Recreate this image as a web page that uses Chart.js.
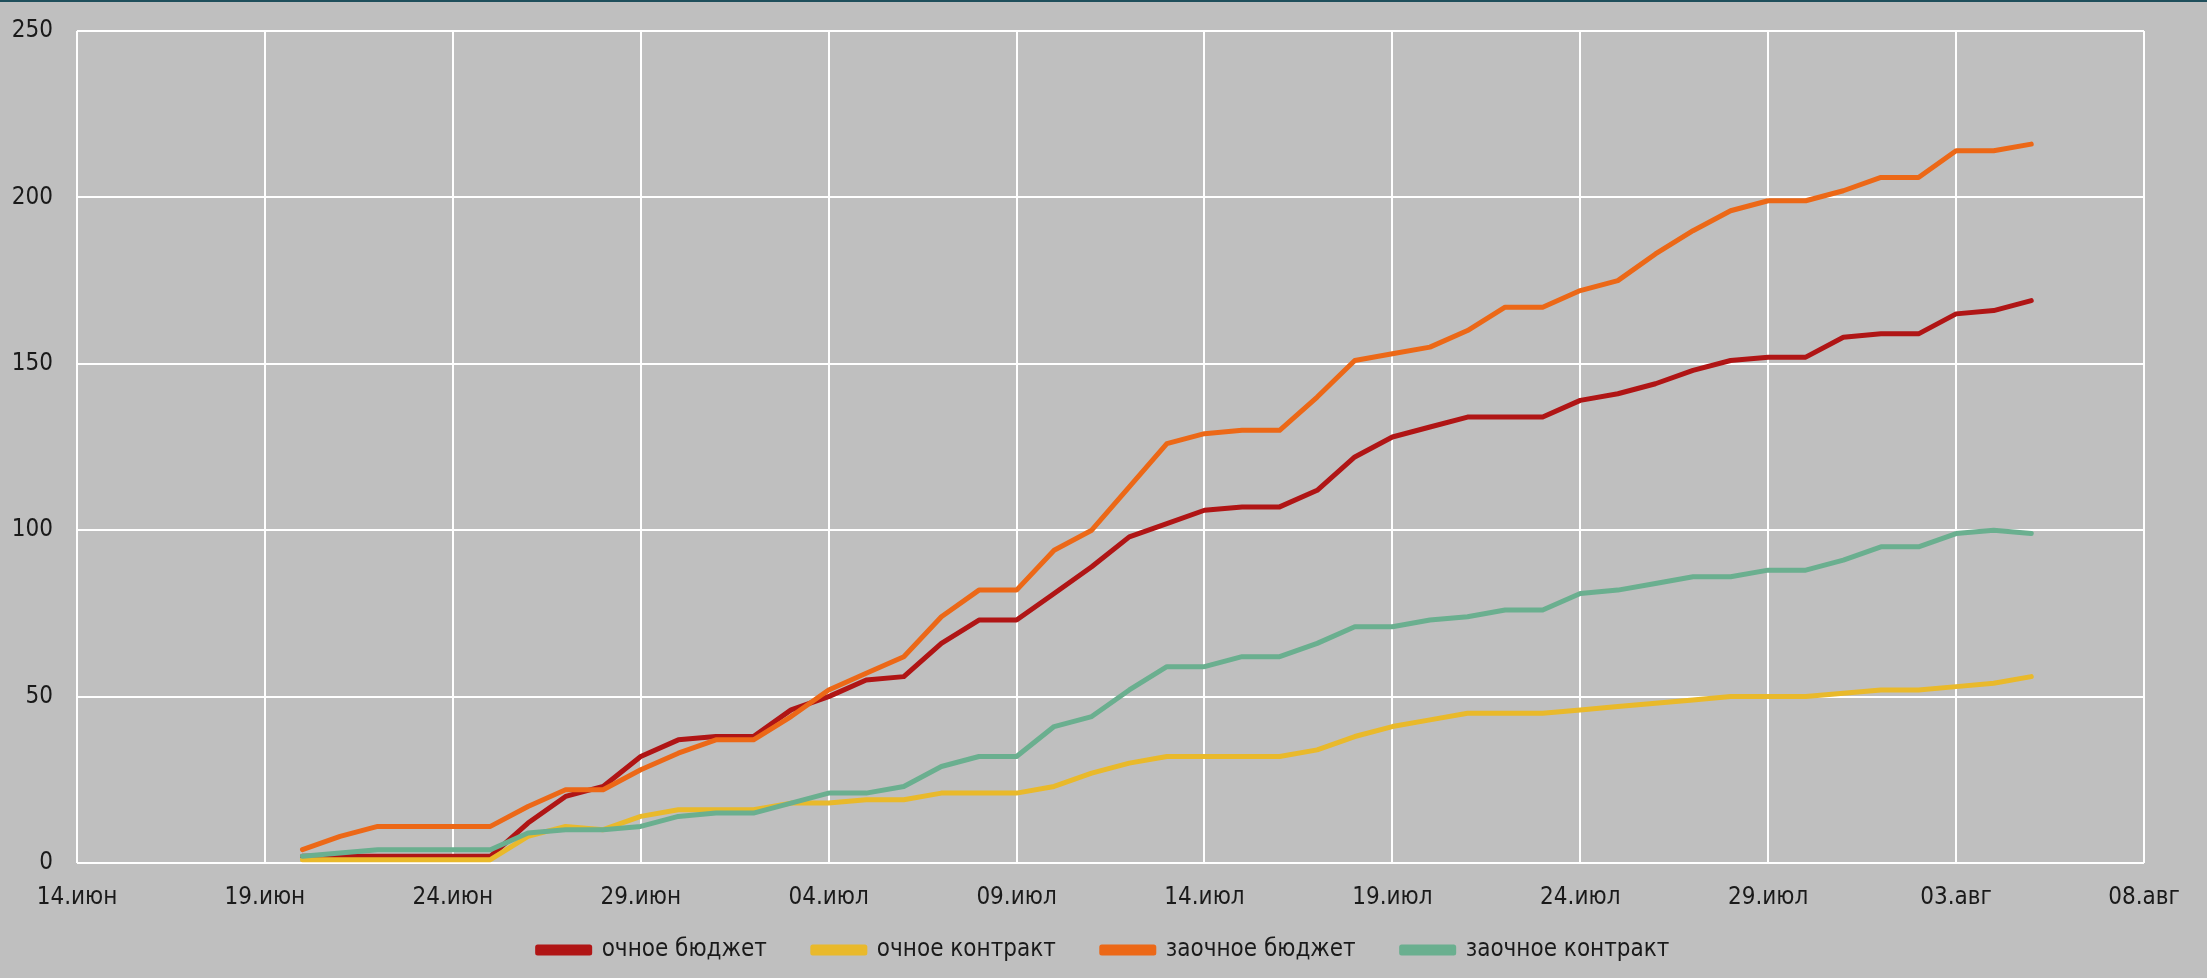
<!DOCTYPE html>
<html lang="ru">
<head>
<meta charset="utf-8">
<title>Заявления по дням</title>
<script src="https://cdn.jsdelivr.net/npm/chart.js@4"></script>
<style>
  html, body { margin: 0; padding: 0; background: #bfbfbf; overflow: hidden; }
  #wrap { width: 2207px; height: 978px; }
</style>
</head>
<body>
<div id="wrap"><canvas id="appChart" width="2207" height="978"></canvas></div>
<script>
// dates of the daily counts (20.06 .. 05.08)
const dates = [
    '2023-06-20', '2023-06-21', '2023-06-22', '2023-06-23', '2023-06-24', '2023-06-25',
    '2023-06-26', '2023-06-27', '2023-06-28', '2023-06-29', '2023-06-30',
    '2023-07-01', '2023-07-02', '2023-07-03', '2023-07-04', '2023-07-05', '2023-07-06',
    '2023-07-07', '2023-07-08', '2023-07-09', '2023-07-10', '2023-07-11', '2023-07-12',
    '2023-07-13', '2023-07-14', '2023-07-15', '2023-07-16', '2023-07-17', '2023-07-18',
    '2023-07-19', '2023-07-20', '2023-07-21', '2023-07-22', '2023-07-23', '2023-07-24',
    '2023-07-25', '2023-07-26', '2023-07-27', '2023-07-28', '2023-07-29', '2023-07-30',
    '2023-07-31', '2023-08-01', '2023-08-02', '2023-08-03', '2023-08-04', '2023-08-05'
];

const seriesNames = ['очное бюджет', 'очное контракт', 'заочное бюджет', 'заочное контракт'];

const fullTimeBudget = [
    2, 2, 2, 2, 2, 2, 12, 20, 23, 32, 37,
    38, 38, 46, 50, 55, 56, 66, 73, 73, 81, 89, 98, 102, 106, 107, 107, 112, 122,
    128, 131, 134, 134, 134, 139, 141, 144, 148, 151, 152, 152, 158,
    159, 159, 165, 166, 169
];
const fullTimeContract = [
    1, 1, 1, 1, 1, 1, 8, 11, 10, 14, 16,
    16, 16, 18, 18, 19, 19, 21, 21, 21, 23, 27, 30, 32, 32, 32, 32, 34, 38,
    41, 43, 45, 45, 45, 46, 47, 48, 49, 50, 50, 50, 51,
    52, 52, 53, 54, 56
];
const extramuralBudget = [
    4, 8, 11, 11, 11, 11, 17, 22, 22, 28, 33,
    37, 37, 44, 52, 57, 62, 74, 82, 82, 94, 100, 113, 126, 129, 130, 130, 140, 151,
    153, 155, 160, 167, 167, 172, 175, 183, 190, 196, 199, 199, 202,
    206, 206, 214, 214, 216
];
const extramuralContract = [
    2, 3, 4, 4, 4, 4, 9, 10, 10, 11, 14,
    15, 15, 18, 21, 21, 23, 29, 32, 32, 41, 44, 52, 59, 59, 62, 62, 66, 71,
    71, 73, 74, 76, 76, 81, 82, 84, 86, 86, 88, 88, 91,
    95, 95, 99, 100, 99
];

const axisStart = '2023-06-14';
const axisEnd = '2023-08-08';
const monthNames = ['янв', 'фев', 'мар', 'апр', 'май', 'июн', 'июл', 'авг', 'сен', 'окт', 'ноя', 'дек'];

const colors = ['#b01515', '#e9b92b', '#ec6817', '#6aaf8f'];

const DAY = 24 * 3600 * 1000;
const t0 = Date.parse(axisStart);
const dayIndex = d => Math.round((Date.parse(d) - t0) / DAY);

function dateLabel(v) {
    const d = new Date(t0 + v * DAY);
    const dd = String(d.getUTCDate()).padStart(2, '0');
    return dd + '.' + monthNames[d.getUTCMonth()];
}

const allSeries = [fullTimeBudget, fullTimeContract, extramuralBudget, extramuralContract];

const FONT = "'Liberation Sans Narrow', 'DejaVu Sans Condensed', 'Liberation Sans', sans-serif";
Chart.defaults.font.family = FONT;
Chart.defaults.color = '#1a1a1a';

const paintBg = {
    id: 'paintBg',
    beforeDraw(chart) {
        const c = chart.ctx;
        c.save();
        c.fillStyle = '#bfbfbf';
        c.fillRect(0, 0, chart.width, chart.height);
        c.fillStyle = '#1f4f5c';
        c.fillRect(0, 0, chart.width, 2);
        c.restore();
    }
};

const ctx = document.getElementById('appChart').getContext('2d');

new Chart(ctx, {
    type: 'line',
    data: {
        datasets: allSeries.map((vals, i) => ({
            label: seriesNames[i],
            data: vals.map((v, j) => ({ x: dayIndex(dates[j]), y: v })),
            borderColor: colors[i],
            backgroundColor: colors[i],
            borderWidth: 5,
            borderCapStyle: 'round',
            borderJoinStyle: 'round',
            pointRadius: 0,
            tension: 0,
            fill: false,
            order: allSeries.length - i
        }))
    },
    options: {
        responsive: false,
        animation: false,
        layout: { padding: { left: 0, right: 0, top: 31, bottom: 6 } },
        plugins: {
            tooltip: { enabled: false },
            legend: {
                position: 'bottom',
                labels: {
                    boxWidth: 52,
                    boxHeight: 6,
                    padding: 46,
                    color: '#1a1a1a',
                    font: { size: 24 },
                    sort: (a, b) => a.datasetIndex - b.datasetIndex
                }
            }
        },
        scales: {
            x: {
                type: 'linear',
                min: 0,
                max: dayIndex(axisEnd),
                border: { display: false },
                grid: { color: '#ffffff', lineWidth: 2, drawTicks: false },
                ticks: {
                    stepSize: 5,
                    padding: 20,
                    color: '#1a1a1a',
                    font: { size: 24 },
                    maxRotation: 0,
                    callback: v => dateLabel(v)
                },
                afterFit: s => {
                    s.height = 29;
                    // let the date labels spill below the thin axis box
                    s._computeLabelArea = () => undefined;
                }
            },
            y: {
                min: 0,
                max: 250,
                border: { display: false },
                grid: { color: '#ffffff', lineWidth: 2, drawTicks: false },
                ticks: {
                    stepSize: 50,
                    padding: 24,
                    color: '#1a1a1a',
                    font: { size: 24 }
                },
                afterFit: s => { s.width = 77; s.paddingTop = 0; s.paddingBottom = 0; }
            },
            // empty right margin so the legend stays centred on the whole canvas
            yRight: {
                position: 'right',
                display: true,
                border: { display: false },
                grid: { display: false },
                ticks: { display: false },
                afterFit: s => { s.width = 63; s.paddingTop = 0; s.paddingBottom = 0; }
            }
        }
    },
    plugins: [paintBg]
});
</script>
</body>
</html>
